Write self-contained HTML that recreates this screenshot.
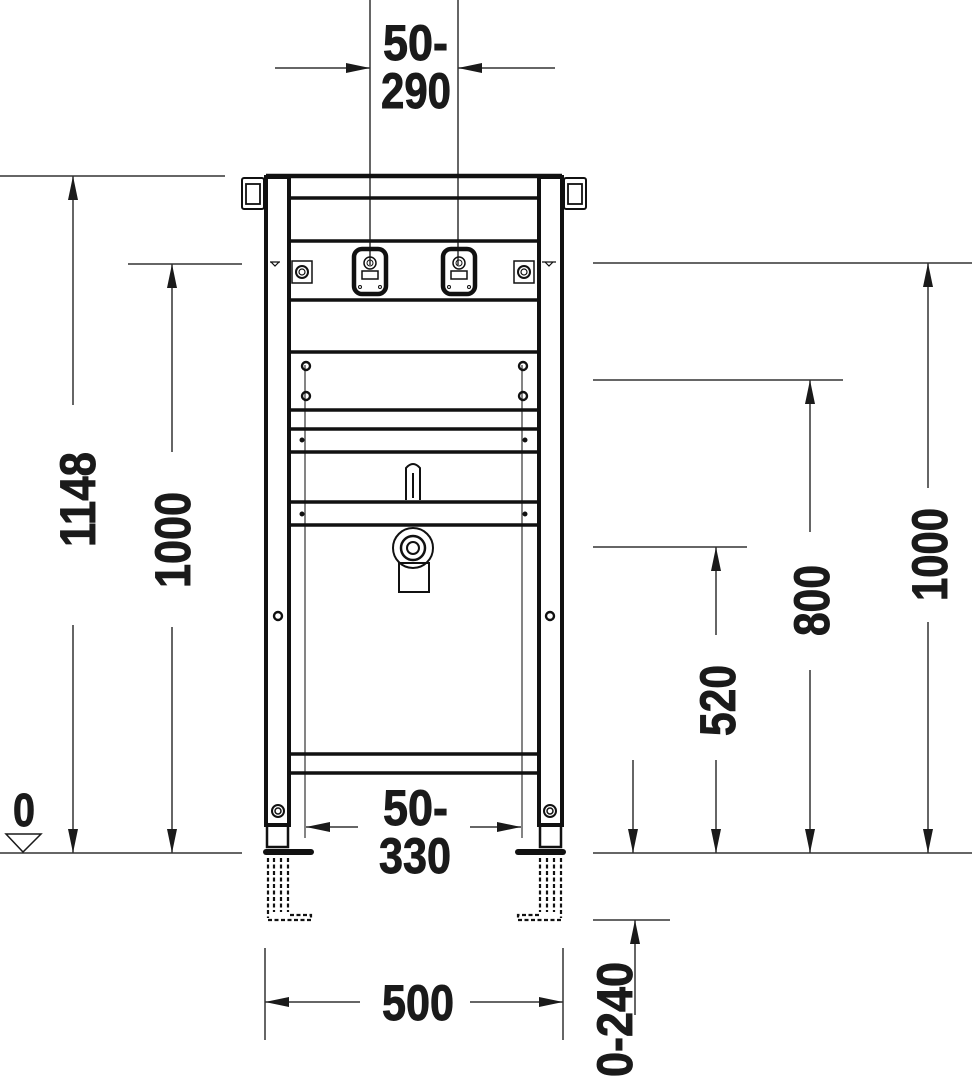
<!DOCTYPE html>
<html><head><meta charset="utf-8"><style>
html,body{margin:0;padding:0;background:#fff;}
svg{display:block;}
text{font-family:"Liberation Sans",sans-serif;font-weight:bold;fill:#1a1a1a;stroke:#1a1a1a;stroke-width:0.9;}
</style></head><body>
<svg width="972" height="1077" viewBox="0 0 972 1077" xmlns="http://www.w3.org/2000/svg">
<defs>
<marker id="a" markerWidth="24" markerHeight="10" refX="24" refY="5" orient="auto" markerUnits="userSpaceOnUse">
<path d="M0,0 L24,5 L0,10 Z" fill="#1a1a1a"/></marker>
</defs>
<g stroke="#333" stroke-width="1.5" fill="none">
<line x1="370" y1="0" x2="370" y2="265"/>
<line x1="458" y1="0" x2="458" y2="265"/>
<line x1="275" y1="68" x2="370" y2="68" marker-end="url(#a)"/>
<line x1="555" y1="68" x2="458" y2="68" marker-end="url(#a)"/>
<line x1="0" y1="176" x2="225" y2="176"/>
<line x1="73" y1="405" x2="73" y2="176" marker-end="url(#a)"/>
<line x1="73" y1="625" x2="73" y2="853" marker-end="url(#a)"/>
<line x1="128" y1="264" x2="242" y2="264"/>
<line x1="172" y1="452" x2="172" y2="264" marker-end="url(#a)"/>
<line x1="172" y1="627" x2="172" y2="853" marker-end="url(#a)"/>
<line x1="0" y1="853" x2="242" y2="853"/>
<path d="M6,834 L41,834 L23,852 Z" stroke="#1a1a1a"/>
<line x1="593" y1="263" x2="972" y2="263"/>
<line x1="593" y1="380" x2="843" y2="380"/>
<line x1="593" y1="547" x2="747" y2="547"/>
<line x1="593" y1="853" x2="972" y2="853"/>
<line x1="593" y1="920" x2="670" y2="920"/>
<line x1="928" y1="488" x2="928" y2="263" marker-end="url(#a)"/>
<line x1="928" y1="622" x2="928" y2="853" marker-end="url(#a)"/>
<line x1="810" y1="532" x2="810" y2="380" marker-end="url(#a)"/>
<line x1="810" y1="670" x2="810" y2="853" marker-end="url(#a)"/>
<line x1="716" y1="635" x2="716" y2="547" marker-end="url(#a)"/>
<line x1="716" y1="760" x2="716" y2="853" marker-end="url(#a)"/>
<line x1="633" y1="760" x2="633" y2="853" marker-end="url(#a)"/>
<line x1="635" y1="1015" x2="635" y2="920" marker-end="url(#a)"/>
<line x1="265" y1="948" x2="265" y2="1040"/>
<line x1="563" y1="948" x2="563" y2="1040"/>
<line x1="360" y1="1002" x2="265" y2="1002" marker-end="url(#a)"/>
<line x1="470" y1="1002" x2="563" y2="1002" marker-end="url(#a)"/>
<line x1="305" y1="365" x2="305" y2="838" stroke-width="1.2"/>
<line x1="522" y1="365" x2="522" y2="838" stroke-width="1.2"/>
<line x1="358" y1="827" x2="306" y2="827" marker-end="url(#a)"/>
<line x1="470" y1="827" x2="521" y2="827" marker-end="url(#a)"/>
</g>
<g stroke="#111" fill="none">
<rect x="266" y="177" width="23" height="648" stroke-width="4"/>
<rect x="539" y="177" width="23" height="648" stroke-width="4"/>
<line x1="266" y1="176" x2="562" y2="176" stroke-width="4.5"/>
<g stroke-width="3.5">
<line x1="289" y1="198" x2="539" y2="198"/>
<line x1="289" y1="241" x2="539" y2="241"/>
<line x1="289" y1="300" x2="539" y2="300"/>
<line x1="289" y1="352" x2="539" y2="352"/>
<line x1="289" y1="410" x2="539" y2="410"/>
<line x1="289" y1="429" x2="539" y2="429"/>
<line x1="289" y1="452" x2="539" y2="452"/>
<line x1="289" y1="502" x2="539" y2="502"/>
<line x1="289" y1="525" x2="539" y2="525"/>
<line x1="289" y1="754" x2="539" y2="754"/>
<line x1="289" y1="773" x2="539" y2="773"/>
</g>
<rect x="242" y="178" width="22" height="31" rx="2" stroke-width="2"/>
<rect x="246" y="184" width="14" height="20" stroke-width="1.8"/>
<rect x="564" y="178" width="22" height="31" rx="2" stroke-width="2"/>
<rect x="568" y="184" width="14" height="20" stroke-width="1.8"/>
<rect x="354" y="249" width="32" height="45" rx="8" stroke-width="4.5"/>
<rect x="443" y="249" width="32" height="45" rx="8" stroke-width="4.5"/>
<circle cx="370" cy="263" r="6" stroke-width="1.5"/><circle cx="370" cy="263" r="3" stroke-width="1"/>
<circle cx="459" cy="263" r="6" stroke-width="1.5"/><circle cx="459" cy="263" r="3" stroke-width="1"/>
<rect x="362" y="271" width="16" height="8" stroke-width="1.5"/>
<rect x="451" y="271" width="16" height="8" stroke-width="1.5"/>
<g stroke-width="1"><circle cx="360" cy="287" r="1.5"/><circle cx="380" cy="287" r="1.5"/><circle cx="449" cy="287" r="1.5"/><circle cx="469" cy="287" r="1.5"/></g>
<rect x="292" y="261" width="20" height="22" stroke-width="1.5"/>
<circle cx="302" cy="272" r="6" stroke-width="2"/>
<circle cx="302" cy="272" r="3" stroke-width="1.2"/>
<rect x="514" y="261" width="20" height="22" stroke-width="1.5"/>
<circle cx="524" cy="272" r="6" stroke-width="2"/>
<circle cx="524" cy="272" r="3" stroke-width="1.2"/>
<path d="M270,262 L280,262 M271,262 L275,266 L279,262 M542,262 L556,262 M545,262 L549,266 L553,262" stroke-width="1.2"/>
<g stroke-width="2.4">
<circle cx="306" cy="366" r="4"/><circle cx="306" cy="396" r="4"/>
<circle cx="523" cy="366" r="4"/><circle cx="523" cy="396" r="4"/>
<circle cx="278" cy="616" r="4"/><circle cx="550" cy="616" r="4"/>
</g>
<circle cx="302" cy="440" r="2" fill="#111"/><circle cx="525" cy="440" r="2" fill="#111"/>
<circle cx="302" cy="514" r="2" fill="#111"/><circle cx="525" cy="514" r="2" fill="#111"/>
<path d="M406,500 L406,468 Q413,460 420,468 L420,500" stroke-width="2"/>
<line x1="413" y1="473" x2="413" y2="498" stroke-width="2"/>
<circle cx="413" cy="548" r="20" stroke-width="2"/>
<circle cx="413" cy="548" r="12" stroke-width="2.5"/>
<circle cx="413" cy="548" r="6" stroke-width="2"/>
<rect x="399" y="563" width="30" height="29" stroke-width="2"/>
<rect x="267" y="825" width="21" height="22" stroke-width="2.5"/>
<rect x="540" y="825" width="21" height="22" stroke-width="2.5"/>
<circle cx="278" cy="811" r="6" stroke-width="2"/><circle cx="278" cy="811" r="3" stroke-width="1.5"/>
<circle cx="550" cy="811" r="6" stroke-width="2"/><circle cx="550" cy="811" r="3" stroke-width="1.5"/>
<path d="M266,852 L311,852" stroke-width="6" stroke-linecap="round"/>
<path d="M518,852 L563,852" stroke-width="6" stroke-linecap="round"/>
<g stroke-width="2.2" stroke-dasharray="4,2.5">
<line x1="268" y1="858" x2="268" y2="918"/><line x1="274" y1="858" x2="274" y2="912"/>
<line x1="281" y1="858" x2="281" y2="912"/><line x1="288" y1="858" x2="288" y2="912"/>
<path d="M268,920 L311,920 L311,915 L288,915"/>
<line x1="540" y1="858" x2="540" y2="912"/><line x1="547" y1="858" x2="547" y2="912"/>
<line x1="554" y1="858" x2="554" y2="912"/><line x1="561" y1="858" x2="561" y2="918"/>
<path d="M561,920 L518,920 L518,915 L540,915"/>
</g>
</g>
<g font-size="50">
<text x="383" y="60" textLength="65" lengthAdjust="spacingAndGlyphs">50-</text>
<text x="381" y="108" textLength="70" lengthAdjust="spacingAndGlyphs">290</text>
<text x="383" y="825" textLength="65" lengthAdjust="spacingAndGlyphs">50-</text>
<text x="379" y="873" textLength="72" lengthAdjust="spacingAndGlyphs">330</text>
<text x="382" y="1020" textLength="72" lengthAdjust="spacingAndGlyphs">500</text>
<text x="13" y="826" font-size="46" textLength="22" lengthAdjust="spacingAndGlyphs">0</text>
<text transform="translate(95,547) rotate(-90)" textLength="95" lengthAdjust="spacingAndGlyphs">1148</text>
<text transform="translate(190,588) rotate(-90)" textLength="96" lengthAdjust="spacingAndGlyphs">1000</text>
<text transform="translate(947,601) rotate(-90)" textLength="93" lengthAdjust="spacingAndGlyphs">1000</text>
<text transform="translate(829,636) rotate(-90)" textLength="71" lengthAdjust="spacingAndGlyphs">800</text>
<text transform="translate(735,736) rotate(-90)" textLength="71" lengthAdjust="spacingAndGlyphs">520</text>
<text transform="translate(632,1077) rotate(-90)" textLength="115" lengthAdjust="spacingAndGlyphs">0-240</text>
</g>
</svg>
</body></html>
